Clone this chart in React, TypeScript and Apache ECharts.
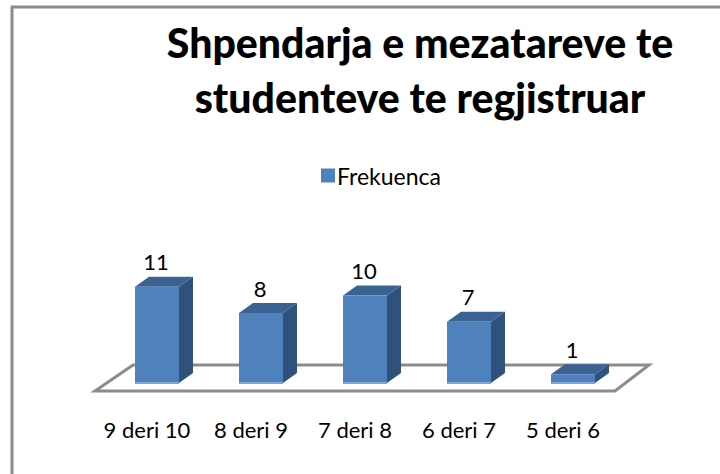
import React, { useEffect, useRef } from "react";
import * as echarts from "echarts";

const categories = ["9 deri 10", "8 deri 9", "7 deri 8", "6 deri 7", "5 deri 6"];
const values = [11, 8, 10, 7, 1];
const seriesName = "Frekuenca";
const titleText = "Shpendarja e mezatareve te\nstudenteve te regjistruar";

export default function App() {
  const ref = useRef<HTMLDivElement>(null);
  useEffect(() => {
    document.body.style.margin = "0";
    const chart = echarts.init(ref.current!, null, { renderer: "svg" });
    const font = "Lato";
    const barW = 44, dx = 14, dy = 10;
    chart.setOption({
      animation: false,
      backgroundColor: "#ffffff",
      textStyle: { fontFamily: font },
      title: {
        text: titleText,
        left: 415,
        top: 10,
        textAlign: "center",
        textStyle: { fontFamily: font, fontSize: 41, fontWeight: 900, color: "#000", lineHeight: 55 },
      },
      legend: {
        data: [{ name: seriesName, icon: "rect" }],
        left: 316,
        top: 159,
        itemWidth: 14,
        itemHeight: 14,
        textStyle: { fontFamily: font, fontSize: 23, color: "#000", padding: [0, 0, 0, -3] },
      },
      grid: { left: 105, width: 520, top: 278, height: 105 },
      xAxis: {
        type: "category",
        data: categories,
        axisLine: { show: false },
        axisTick: { show: false },
        axisLabel: { interval: 0, fontFamily: font, fontSize: 22, color: "#000", margin: 35, padding: [0, 20, 0, 0] },
      },
      yAxis: { type: "value", min: 0, max: 12, show: false, splitLine: { show: false } },
      graphic: [
        {
          type: "polyline",
          shape: { points: [[12, 474], [12, 7], [720, 7]] },
          style: { fill: "none", stroke: "#8c8c8c", lineWidth: 3 },
          silent: true,
        },
      ],
      series: [
        {
          type: "custom",
          name: "floor",
          silent: true,
          z: 1,
          data: [0],
          renderItem: (_p: any, api: any) => {
            const left = api.coord([0, 0]);
            const right = api.coord([4, 0]);
            const y = left[1];
            const x0 = left[0] - 62, x1 = right[0] + 42;
            return {
              type: "polygon",
              shape: {
                points: [
                  [x0, y + 8],
                  [x0 + 38, y - 18],
                  [x1 + 34, y - 18],
                  [x1, y + 8],
                ],
              },
              style: { fill: "#ffffff", stroke: "#8c8c8c", lineWidth: 3 },
            };
          },
        },
        {
          type: "custom",
          name: seriesName,
          z: 2,
          itemStyle: { color: "#4f81bd" },
          encode: { x: 0, y: 1 },
          data: values.map((v, i) => [i, v]),
          renderItem: (_p: any, api: any) => {
            const cat = api.value(0);
            const v = api.value(1);
            const top = api.coord([cat, v]);
            const base = api.coord([cat, 0]);
            const l = top[0] - barW / 2, r = top[0] + barW / 2;
            const t = top[1], b = base[1];
            return {
              type: "group",
              children: [
                {
                  type: "polygon",
                  shape: { points: [[r, t], [r + dx, t - dy], [r + dx, b - dy], [r, b]] },
                  style: { fill: "#2f527d" },
                },
                {
                  type: "polygon",
                  shape: { points: [[l, t], [l + dx, t - dy], [r + dx, t - dy], [r, t]] },
                  style: { fill: "#3b6391" },
                },
                {
                  type: "rect",
                  shape: { x: l, y: t, width: barW, height: b - t },
                  style: { fill: "#4f81bd" },
                },
                {
                  type: "rect",
                  shape: { x: l, y: b - 1, width: barW, height: 2 },
                  style: { fill: "#7ea6d6" },
                },
                {
                  type: "text",
                  x: top[0] - 1,
                  y: t - 14,
                  style: {
                    text: String(v),
                    font: `22px ${font}`,
                    fill: "#000",
                    align: "center",
                    verticalAlign: "bottom",
                  },
                },
              ],
            };
          },
        },
      ],
    });
    return () => chart.dispose();
  }, []);
  return <div ref={ref} style={{ width: 720, height: 474 }} />;
}
